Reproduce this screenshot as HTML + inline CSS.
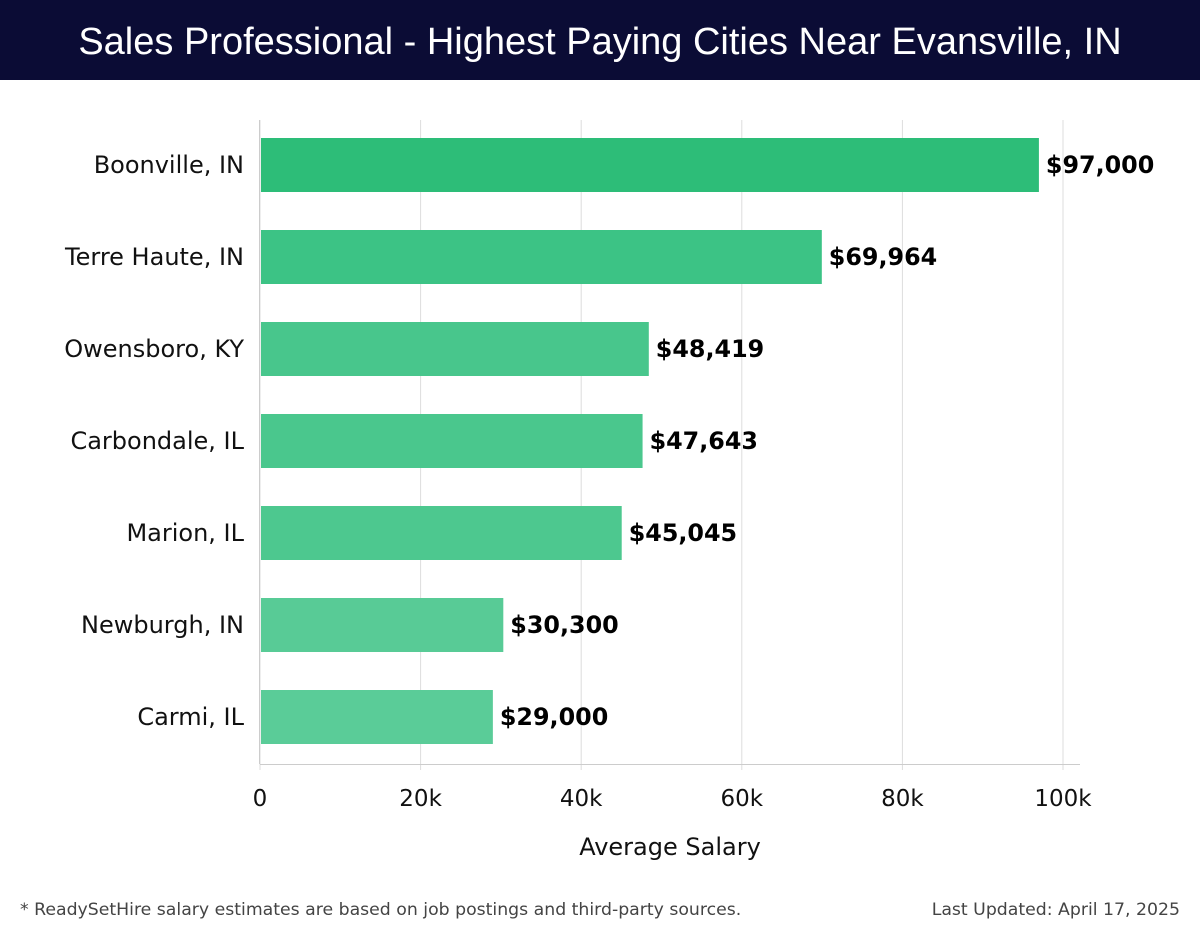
<!DOCTYPE html>
<html><head><meta charset="utf-8"><style>
body{margin:0;width:1200px;height:940px;background:#fff;font-family:"DejaVu Sans","Liberation Sans",sans-serif;overflow:hidden}
#hdr{position:absolute;left:0;top:0;width:1200px;height:80px;background:#0b0c35;color:#fff;font-family:"Liberation Sans",sans-serif;font-size:38px;text-align:center;line-height:84px}
.ft{position:absolute;top:900px;font-size:17.3px;color:#444}
</style></head><body>
<div id="hdr">Sales Professional - Highest Paying Cities Near Evansville, IN</div>
<svg id="c" width="1200" height="940" style="position:absolute;left:0;top:0"></svg>
<div class="ft" style="left:20px">* ReadySetHire salary estimates are based on job postings and third-party sources.</div>
<div class="ft" style="right:20px">Last Updated: April 17, 2025</div>
<script>
const categories=["Boonville, IN","Terre Haute, IN","Owensboro, KY","Carbondale, IL","Marion, IL","Newburgh, IN","Carmi, IL"];
const values=[97000,69964,48419,47643,45045,30300,29000];
const valueLabels=["$97,000","$69,964","$48,419","$47,643","$45,045","$30,300","$29,000"];
const ticks=[0,20000,40000,60000,80000,100000];
const tickLabels=["0","20k","40k","60k","80k","100k"];
const colors=["#2dbd78","#3cc385","#48c68c","#4ac78d","#4dc88f","#58cb96","#5acc98"];
const svg=document.getElementById('c');const NS="http://www.w3.org/2000/svg";
const x=v=>260+v*(1063-260)/100000;
const y=i=>165+i*92;
function mk(t,a,p){const e=document.createElementNS(NS,t);for(const k in a)e.setAttribute(k,a[k]);(p||svg).appendChild(e);return e;}
ticks.forEach((t,i)=>{
 const g=mk('line',{x1:x(t),x2:x(t),y1:120,y2:770,stroke:'#ddd','stroke-width':1});
 
 
 const l=mk('text',{x:x(t),y:806,'text-anchor':'middle','font-size':23,fill:'#111'});l.textContent=tickLabels[i];
 
 
});
mk('line',{x1:260,x2:1080,y1:764.5,y2:764.5,stroke:'#ccc'});
mk('line',{x1:259.5,x2:259.5,y1:120,y2:764,stroke:'#ccc'});
categories.forEach((c,i)=>{
 const r=mk('rect',{x:x(0)+1,y:y(i)-27,width:x(values[i])-x(0)-1,height:54,fill:colors[i]});
 
 
 const t=mk('text',{x:244,y:y(i)+8,'text-anchor':'end','font-size':24,fill:'#111'});t.textContent=c;
 
 
 const v=mk('text',{x:x(values[i])+7,y:y(i)+8,'font-size':23.8,'font-weight':'bold',fill:'#000'});v.textContent=valueLabels[i];
 
 
});
const at=mk('text',{x:670,y:855,'text-anchor':'middle','font-size':24,fill:'#111'});at.textContent="Average Salary";


</script>
</body></html>
